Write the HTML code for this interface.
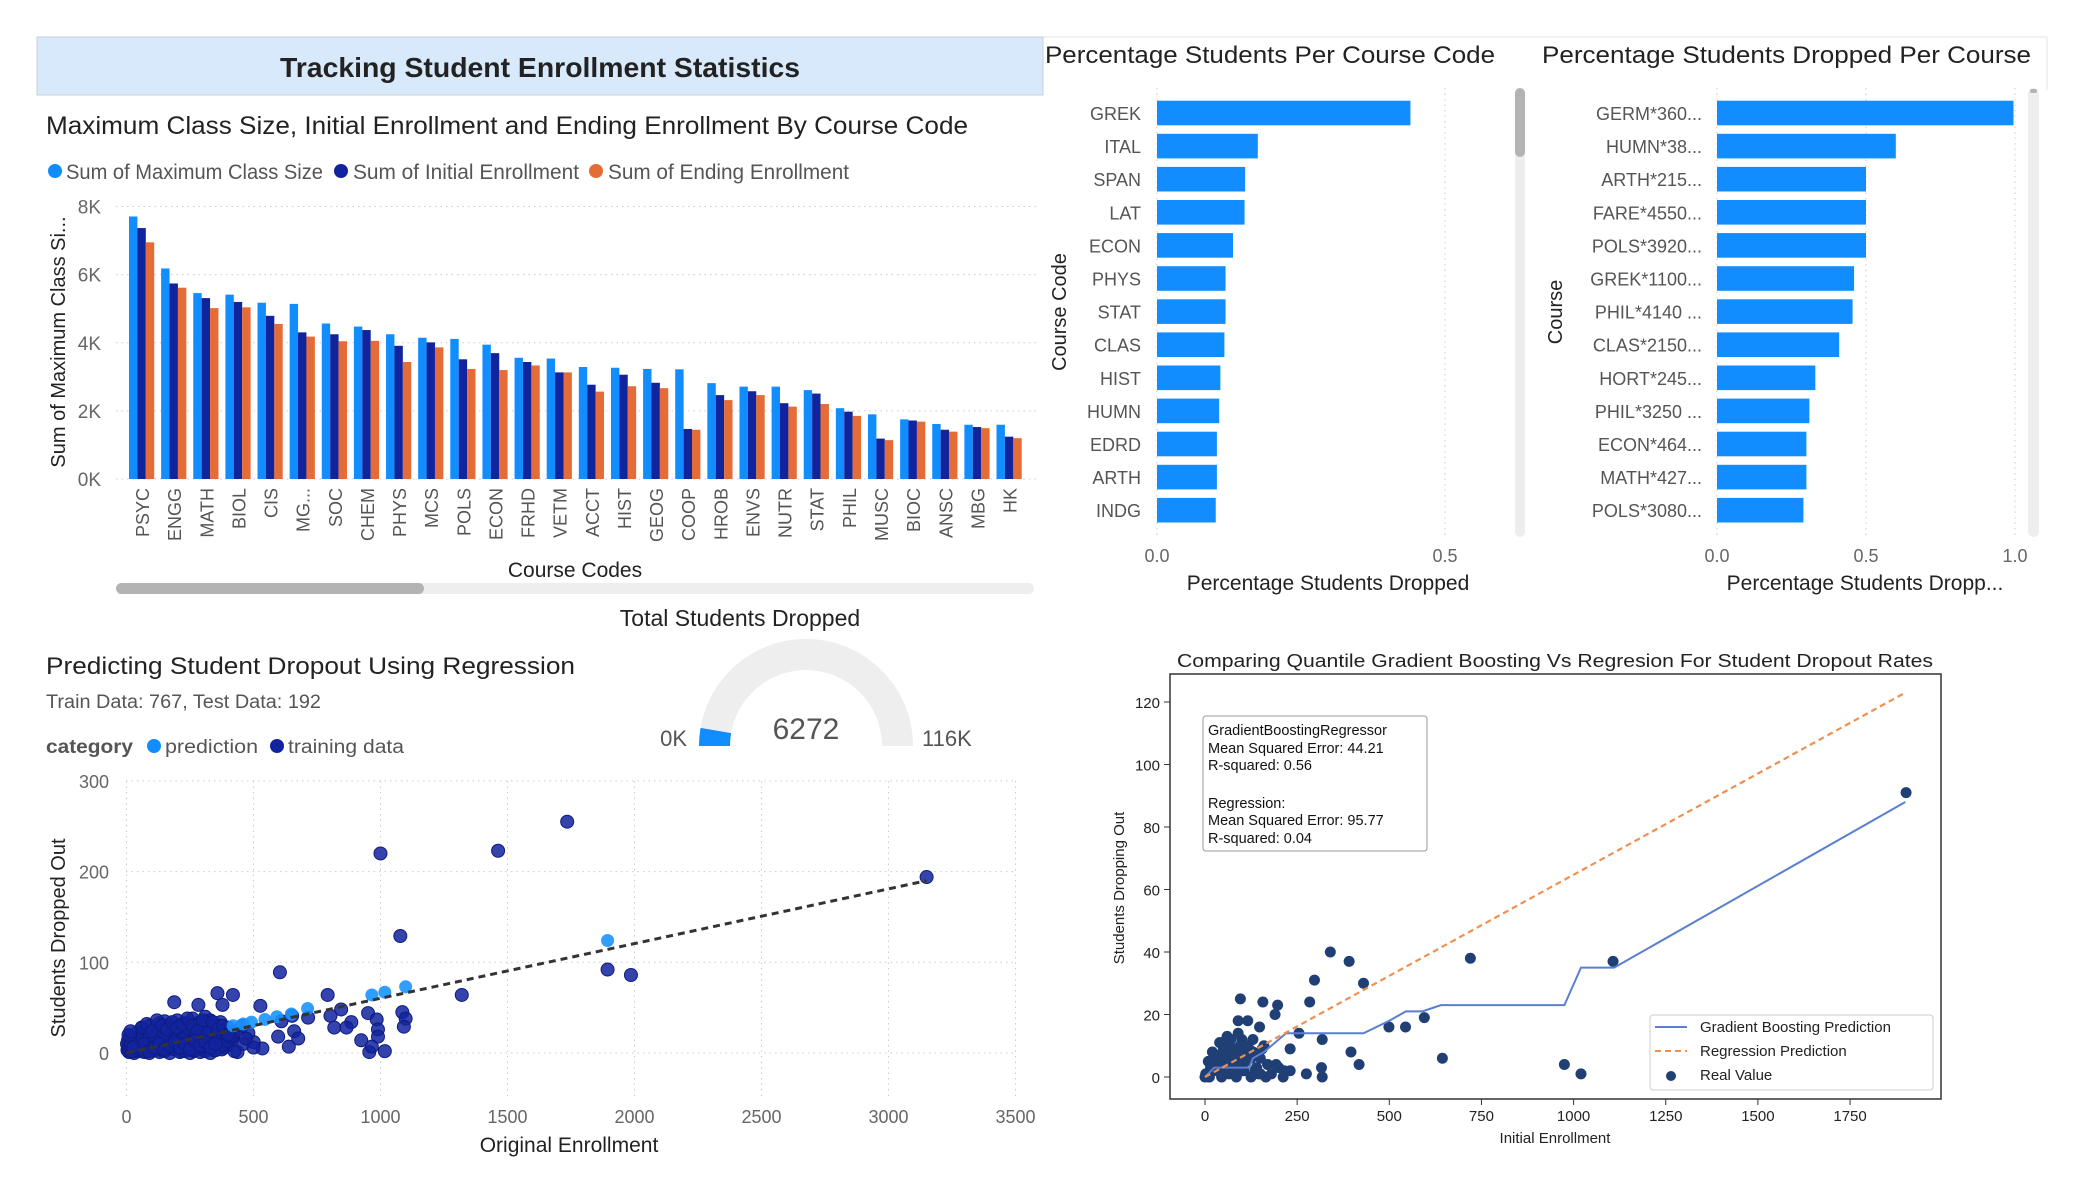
<!DOCTYPE html>
<html><head><meta charset="utf-8"><style>
html,body{margin:0;padding:0;background:#fff;}
svg{display:block;font-family:"Liberation Sans",sans-serif;}
</style></head><body>
<svg id="root" width="2075" height="1200" viewBox="0 0 2075 1200" xmlns="http://www.w3.org/2000/svg">
<rect x="0" y="0" width="2075" height="1200" fill="#fff"/>
<rect x="37" y="37" width="1006" height="58" fill="#d7e9fb" stroke="#c8d2dc" stroke-width="1"/>
<text x="540" y="77" text-anchor="middle" font-size="28" font-weight="bold" fill="#222" textLength="520" lengthAdjust="spacingAndGlyphs">Tracking Student Enrollment Statistics</text>
<line x1="1043" y1="37" x2="2047" y2="37" stroke="#e3e3e3"/>
<line x1="2047" y1="37" x2="2047" y2="90" stroke="#e3e3e3"/>

<g id="barChart">
<text x="46" y="134" font-size="25" fill="#222" textLength="922" lengthAdjust="spacingAndGlyphs">Maximum Class Size, Initial Enrollment and Ending Enrollment By Course Code</text>
<g>
<circle cx="55" cy="171" r="7" fill="#118DFF"/>
<text x="66" y="179" font-size="21" fill="#555" textLength="257" lengthAdjust="spacingAndGlyphs">Sum of Maximum Class Size</text>
<circle cx="341" cy="171" r="7" fill="#12239E"/>
<text x="353" y="179" font-size="21" fill="#555" textLength="226" lengthAdjust="spacingAndGlyphs">Sum of Initial Enrollment</text>
<circle cx="596" cy="171" r="7" fill="#E66C37"/>
<text x="608" y="179" font-size="21" fill="#555" textLength="241" lengthAdjust="spacingAndGlyphs">Sum of Ending Enrollment</text>
</g>
<text transform="translate(65,342) rotate(-90)" text-anchor="middle" font-size="20" fill="#222">Sum of Maximum Class Si...</text>
<text x="575" y="577" text-anchor="middle" font-size="21" fill="#222">Course Codes</text>
<rect x="116" y="583" width="918" height="11" rx="5.5" fill="#eeeeee"/>
<rect x="116" y="583" width="308" height="11" rx="5.5" fill="#b3b3b3"/>
</g>

<g id="hbar1">
<text x="1045" y="63" font-size="24" fill="#222" textLength="450" lengthAdjust="spacingAndGlyphs">Percentage Students Per Course Code</text>
<text transform="translate(1066,312) rotate(-90)" text-anchor="middle" font-size="20" fill="#222">Course Code</text>
<text x="1328" y="590" text-anchor="middle" font-size="21" fill="#222">Percentage Students Dropped</text>
<rect x="1515" y="88" width="10" height="449" rx="5" fill="#eeeeee"/>
<rect x="1515" y="88" width="10" height="69" rx="5" fill="#b3b3b3"/>
</g>
<g id="hbar2">
<text x="1542" y="63" font-size="24" fill="#222" textLength="489" lengthAdjust="spacingAndGlyphs">Percentage Students Dropped Per Course</text>
<text transform="translate(1562,312) rotate(-90)" text-anchor="middle" font-size="20" fill="#222">Course</text>
<text x="1865" y="590" text-anchor="middle" font-size="21" fill="#222">Percentage Students Dropp...</text>
<rect x="2028" y="88" width="11" height="449" rx="5.5" fill="#eeeeee"/>
<rect x="2030" y="89" width="7" height="4" rx="2" fill="#b3b3b3"/>
</g>

<g id="gauge">
<text x="740" y="626" text-anchor="middle" font-size="23" fill="#222">Total Students Dropped</text>
</g>

<g id="scatterL">
<text x="46" y="674" font-size="24" fill="#222" textLength="529" lengthAdjust="spacingAndGlyphs">Predicting Student Dropout Using Regression</text>
<text x="46" y="708" font-size="19" fill="#555" textLength="275" lengthAdjust="spacingAndGlyphs">Train Data: 767, Test Data: 192</text>
<g>
<text x="46" y="753" font-size="19" font-weight="bold" fill="#555" textLength="87" lengthAdjust="spacingAndGlyphs">category</text>
<circle cx="154" cy="746" r="7" fill="#118DFF"/>
<text x="165" y="753" font-size="19" fill="#555" textLength="93" lengthAdjust="spacingAndGlyphs">prediction</text>
<circle cx="277" cy="746" r="7" fill="#12239E"/>
<text x="288" y="753" font-size="19" fill="#555" textLength="116" lengthAdjust="spacingAndGlyphs">training data</text>
</g>
<text transform="translate(65,938) rotate(-90)" text-anchor="middle" font-size="20" fill="#222">Students Dropped Out</text>
<text x="569" y="1152" text-anchor="middle" font-size="21" fill="#222">Original Enrollment</text>
</g>

<g id="mpl">
<text x="1555" y="667" text-anchor="middle" font-size="18" fill="#222" textLength="756" lengthAdjust="spacingAndGlyphs">Comparing Quantile Gradient Boosting Vs Regresion For Student Dropout Rates</text>
<text transform="translate(1124,888) rotate(-90)" text-anchor="middle" font-size="15" fill="#222">Students Dropping Out</text>
<text x="1555" y="1143" text-anchor="middle" font-size="15" fill="#222">Initial Enrollment</text>
</g>
</svg>
<script>
const NS='http://www.w3.org/2000/svg';
function mk(parent,tag,attrs,txt){const e=document.createElementNS(NS,tag);for(const k in attrs)e.setAttribute(k,attrs[k]);if(txt!==undefined)e.textContent=txt;parent.appendChild(e);return e;}

const courseCodes=['PSYC','ENGG','MATH','BIOL','CIS','MG...','SOC','CHEM','PHYS','MCS','POLS','ECON','FRHD','VETM','ACCT','HIST','GEOG','COOP','HROB','ENVS','NUTR','STAT','PHIL','MUSC','BIOC','ANSC','MBG','HK'];
const maxClassSize=[7706,6181,5458,5412,5175,5141,4565,4475,4249,4147,4113,3944,3559,3537,3288,3266,3232,3220,2814,2712,2712,2610,2079,1898,1751,1616,1593,1593];
const initialEnroll=[7367,5740,5311,5198,4791,4305,4249,4373,3910,4011,3514,3695,3435,3130,2768,3062,2825,1469,2463,2576,2226,2508,1977,1186,1717,1446,1525,1243];
const endingEnroll=[6949,5616,5017,5040,4554,4181,4045,4056,3435,3864,3232,3198,3333,3130,2565,2723,2667,1446,2316,2463,2124,2203,1853,1141,1684,1390,1492,1198];
const barTicks=[0,2000,4000,6000,8000];
const barTickLabels=['0K','2K','4K','6K','8K'];

const codeCats=['GREK','ITAL','SPAN','LAT','ECON','PHYS','STAT','CLAS','HIST','HUMN','EDRD','ARTH','INDG'];
const codePct=[0.44,0.175,0.153,0.152,0.132,0.119,0.119,0.117,0.110,0.108,0.104,0.104,0.102];
const courseCats=['GERM*360...','HUMN*38...','ARTH*215...','FARE*4550...','POLS*3920...','GREK*1100...','PHIL*4140 ...','CLAS*2150...','HORT*245...','PHIL*3250 ...','ECON*464...','MATH*427...','POLS*3080...'];
const coursePct=[0.995,0.60,0.50,0.50,0.50,0.46,0.455,0.41,0.33,0.31,0.30,0.30,0.29];

const gaugeValue=6272;
const gaugeMax=116000;

const trainX=[1000,1463,1735,3150,1078,1894,1986,1320,604,792,358,419,188,283,378,527,951,985,990,990,924,956,1017,966,1086,1099,1092,803,845,885,818,866,715,652,610,597,660,676,639,535,501,437,
20,30,40,50,60,70,80,90,100,110,120,130,140,150,160,170,180,190,200,210,220,230,240,250,260,270,280,290,300,310,320,330,340,350,360,370,380,390,400,410,420,430,
15,35,55,75,95,115,135,155,175,195,215,235,255,275,295,315,335,355,375,395,415,
25,65,105,145,185,225,265,305,345,385,425,45,85,125,165,205,245,285,325,365,
10,30,50,70,90,110,130,150,170,190,210,230,250,270,290,310,330,350,5,12,8,18,28,460,480,500,455,470,
20,40,60,80,100,120,140,160,180,200,220,240,260,280,300,320,340,360,380,400,
30,50,70,90,110,130,150,170,190,210,230,250,270,290,310,330,350,370,390,410,
60,80,100,120,140,160,180,200,220,240,260,280,300,320,340,360,380,400,
90,110,130,150,170,190,210,230,250,270,290,310,330,350,
2,4,6,10,14,18,22,26,8,16];
const trainY=[220,223,255,194,129,92,86,64,89,64,66,64,56,53,53,52,44,37,26,18,14,1,2,7,45,38,29,41,48,34,28,28,39,41,35,18,24,16,7,5,12,1,
8,15,22,12,28,6,20,30,10,25,14,33,18,35,8,30,22,12,36,26,16,33,10,28,38,20,14,32,24,40,12,30,18,26,10,34,22,14,28,16,20,24,
4,10,2,18,6,14,3,20,5,12,2,16,6,24,4,12,6,20,4,8,14,
2,4,6,3,8,5,2,8,3,6,2,18,12,22,16,8,20,10,14,6,
1,0,2,1,0,3,1,2,0,4,1,2,0,3,1,2,0,3,5,12,8,3,2,10,22,6,30,16,
5,9,4,13,7,11,5,15,8,12,6,17,9,14,7,19,11,16,9,13,
14,18,10,22,16,26,20,28,24,30,18,26,22,34,28,36,20,30,24,18,
28,32,24,36,30,26,34,28,32,38,30,24,36,22,34,26,30,20,
2,6,10,4,8,12,6,10,4,14,8,12,6,10,
10,3,14,6,18,10,2,6,20,24];
const predX=[1894,1099,1017,966,713,649,592,545,492,460,420];
const predY=[124,73,67,64,49,43,40,37,34,32,30];
const regLineX=[0,3150];
const regLineY=[0,190];
const lxTicks=[0,500,1000,1500,2000,2500,3000,3500];
const lyTicks=[0,100,200,300];

const realX=[340,391,720,1107,1902,430,297,284,96,157,197,190,255,318,231,396,418,499,544,595,644,975,1020,275,318,316,231,212,193,148,116,90,58,40,9,
20,30,45,55,65,75,85,100,110,120,135,145,160,170,180,10,25,35,50,60,70,80,95,105,125,140,155,165,5,15,40,60,75,90,130,150,200,215,0,2,12,22,
30,50,70,90,110,130,150,170,45,65,85,105,125,145,20,40,60,80,100];
const realY=[40,37,38,37,91,30,31,24,25,24,23,20,14,12,9,8,4,16,16,19,6,4,1,1,0,3,2,0,4,16,18,18,12,11,5,
2,4,1,6,10,3,8,12,5,9,2,7,10,4,1,0,2,6,8,4,6,2,10,7,6,3,9,0,1,3,11,13,9,5,12,1,3,2,0,1,0,3,
7,9,12,14,10,8,6,4,0,1,0,2,0,1,8,5,4,6,2];
const gbX=[0,25,100,120,130,160,190,220,270,430,500,545,590,640,975,1020,1110,1900];
const gbY=[0,3,3,3,6,8,11,14,14,14,18,21,21,23,23,35,35,88];
const regX=[0,1900];
const regY=[0,123];
const rxTicks=[0,250,500,750,1000,1250,1500,1750];
const ryTicks=[0,20,40,60,80,100,120];

(function(){
const g=document.getElementById('barChart');
const y=v=>479-v/8000*272.5;
const gx=i=>129+i*32.13;
barTicks.forEach((t,i)=>{
 const l=mk(g,'line',{x1:116,x2:1036,y1:y(t),y2:y(t),stroke:'#cccccc','stroke-dasharray':'1.5 4'});
 
 
 const tx=mk(g,'text',{x:101,y:y(t)+7,'text-anchor':'end','font-size':19,fill:'#666'},barTickLabels[i]);
 
 
});
courseCodes.forEach((c,i)=>{
 const x=gx(i);
 [[maxClassSize,'#118DFF','max'],[initialEnroll,'#12239E','initial'],[endingEnroll,'#E66C37','ending']].forEach((s,j)=>{
  const v=s[0][i];
  const r=mk(g,'rect',{x:x+j*8.4,y:y(v),width:8.4,height:479-y(v),fill:s[1]});
  
  
 });
 const t=mk(g,'text',{transform:'translate('+(x+20)+',488) rotate(-90)','text-anchor':'end','font-size':18,fill:'#555'},c);
 
 
});
})();

function hbar(id,cats,vals,x0,scale,ticks,labelX,prefix){
 const g=document.getElementById(id);
 ticks.forEach(t=>{
  const l=mk(g,'line',{x1:x0+t*scale,x2:x0+t*scale,y1:88,y2:537,stroke:'#cccccc','stroke-dasharray':'1.5 4'});
  
  
  const tx=mk(g,'text',{x:x0+t*scale,y:562,'text-anchor':'middle','font-size':18,fill:'#666'},t.toFixed(1));
  
  
 });
 cats.forEach((c,i)=>{
  const cy=113+i*33.1;
  const r=mk(g,'rect',{x:x0,y:cy-12.3,width:vals[i]*scale,height:24.6,fill:'#118DFF'});
  
  
  const t=mk(g,'text',{x:labelX,y:cy+7,'text-anchor':'end','font-size':18,fill:'#555'},c);
  
  
 });
}
hbar('hbar1',codeCats,codePct,1157,576,[0,0.5],1141,'pct-code');
hbar('hbar2',courseCats,coursePct,1717,298,[0,0.5,1.0],1702,'pct-course');

(function(){
const g=document.getElementById('gauge');
const cx=806,cy=746,ro=107,ri=76;
function arc(f0,f1){
 const a0=Math.PI*(1-f0),a1=Math.PI*(1-f1);
 const p=(r,a)=>[cx+r*Math.cos(a),cy-r*Math.sin(a)];
 const A=p(ro,a0),B=p(ro,a1),C=p(ri,a1),D=p(ri,a0);
 return 'M'+A+' A'+ro+','+ro+' 0 0 1 '+B+' L'+C+' A'+ri+','+ri+' 0 0 0 '+D+' Z';
}
const tr=mk(g,'path',{d:arc(0,1),fill:'#eeeeee'});


const fl=mk(g,'path',{d:arc(0,gaugeValue/gaugeMax),fill:'#118DFF'});


const v=mk(g,'text',{x:cx,y:cy-7,'text-anchor':'middle','font-size':30,fill:'#555'},String(gaugeValue));


const mn=mk(g,'text',{x:687,y:746,'text-anchor':'end','font-size':22,fill:'#555'},'0K');


const mx=mk(g,'text',{x:922,y:746,'font-size':22,fill:'#555'},Math.round(gaugeMax/1000)+'K');


})();

(function(){
const g=document.getElementById('scatterL');
const X=v=>126.5+v*0.254, Y=v=>1053-v*0.907;
lyTicks.forEach(t=>{
 const l=mk(g,'line',{x1:126,x2:1015,y1:Y(t),y2:Y(t),stroke:'#cccccc','stroke-dasharray':'1.5 4'});
 
 
 const tx=mk(g,'text',{x:109,y:Y(t)+7,'text-anchor':'end','font-size':18,fill:'#666'},String(t));
 
 
});
lxTicks.forEach(t=>{
 const l=mk(g,'line',{x1:X(t),x2:X(t),y1:781,y2:1100,stroke:'#cccccc','stroke-dasharray':'1.5 4'});
 
 
 const tx=mk(g,'text',{x:X(t),y:1123,'text-anchor':'middle','font-size':18,fill:'#666'},String(t));
 
 
});
trainX.forEach((x,i)=>{
 const c=mk(g,'circle',{cx:X(x),cy:Y(trainY[i]),r:6.5,fill:'#12239E','fill-opacity':0.85,stroke:'#0e1c80','stroke-width':1});
 
 
});
predX.forEach((x,i)=>{
 const c=mk(g,'circle',{cx:X(x),cy:Y(predY[i]),r:6.5,fill:'#1a94ff','fill-opacity':0.9});
 
 
});
const rl=mk(g,'line',{x1:X(regLineX[0]),y1:Y(regLineY[0]),x2:X(regLineX[1]),y2:Y(regLineY[1]),stroke:'#333','stroke-width':3,'stroke-dasharray':'7 5'});


})();

(function(){
const g=document.getElementById('mpl');
const X=v=>1205+v*0.3686, Y=v=>1077-v*3.125;
const fr=mk(g,'rect',{x:1170,y:674,width:771,height:425,fill:'none',stroke:'#333','stroke-width':1.5});


ryTicks.forEach(t=>{
 const l=mk(g,'line',{x1:1164,x2:1170,y1:Y(t),y2:Y(t),stroke:'#333'});
 
 
 const tx=mk(g,'text',{x:1160,y:Y(t)+6,'text-anchor':'end','font-size':15,fill:'#222'},String(t));
 
 
});
rxTicks.forEach(t=>{
 const l=mk(g,'line',{x1:X(t),x2:X(t),y1:1099,y2:1105,stroke:'#333'});
 
 
 const tx=mk(g,'text',{x:X(t),y:1121,'text-anchor':'middle','font-size':15,fill:'#222'},String(t));
 
 
});
realX.forEach((x,i)=>{
 const c=mk(g,'circle',{cx:X(x),cy:Y(realY[i]),r:5.5,fill:'#1f3f75'});
 
 
});
const gb=mk(g,'polyline',{points:gbX.map((x,i)=>X(x)+','+Y(gbY[i])).join(' '),fill:'none',stroke:'#5a7fd0','stroke-width':2});


const rg=mk(g,'line',{x1:X(regX[0]),y1:Y(regY[0]),x2:X(regX[1]),y2:Y(regY[1]),stroke:'#f09050','stroke-width':2.2,'stroke-dasharray':'6 4'});


const bx=mk(g,'rect',{x:1203,y:716,width:224,height:135,rx:3,fill:'#fff',stroke:'#999','stroke-width':1});


const lines=[['GradientBoostingRegressor',735],['Mean Squared Error: 44.21',753],['R-squared: 0.56',770],['Regression:',808],['Mean Squared Error: 95.77',825],['R-squared: 0.04',843]];
lines.forEach(l=>{
 const t=mk(g,'text',{x:1208,y:l[1],'font-size':14.5,fill:'#111'},l[0]);
 
 
});
const lb=mk(g,'rect',{x:1650,y:1015,width:283,height:75,rx:3,fill:'#fff',stroke:'#ccc','stroke-width':1});


const l1=mk(g,'line',{x1:1655,x2:1687,y1:1027,y2:1027,stroke:'#5a7fd0','stroke-width':2});


const l2=mk(g,'line',{x1:1655,x2:1687,y1:1051,y2:1051,stroke:'#f09050','stroke-width':2,'stroke-dasharray':'6 4'});


const l3=mk(g,'circle',{cx:1671,cy:1076,r:5,fill:'#1f3f75'});


[['Gradient Boosting Prediction',1032],['Regression Prediction',1056],['Real Value',1080]].forEach(e=>{
 const t=mk(g,'text',{x:1700,y:e[1],'font-size':15,fill:'#222'},e[0]);
 
 
});
})();
</script>
</body></html>
